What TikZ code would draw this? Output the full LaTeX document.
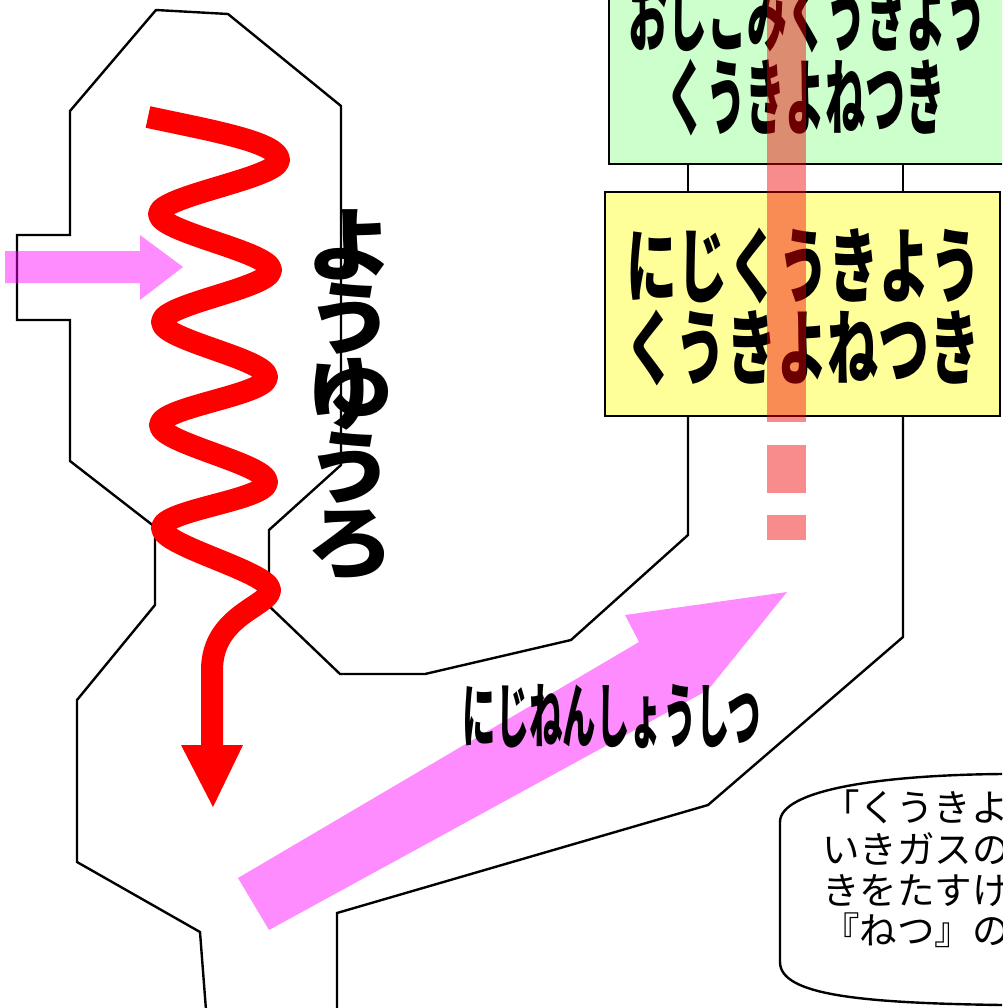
\documentclass[tikz,border=0pt]{standalone}
\usepackage{fontspec}
% Japanese faces: condensed bold for the panels, plain for the note
\newfontfamily\jpG[FakeStretch=0.48]{Noto Sans CJK JP}
\newfontfamily\jpY[FakeStretch=0.62]{Noto Sans CJK JP}
\newfontfamily\jpR[FakeStretch=0.47]{Noto Sans CJK JP}
\newfontfamily\jpV[FakeStretch=1.1]{Noto Sans CJK JP}
\newfontfamily\jpN{Noto Sans CJK JP}
\definecolor{boxgreen}{RGB}{204,255,204}
\definecolor{boxyellow}{RGB}{255,255,153}
\definecolor{gasmag}{RGB}{255,0,255}
\definecolor{airred}{RGB}{240,0,0}

\begin{document}
\begin{tikzpicture}[x=1pt,y=-1pt,
  wall/.style={draw=black, line width=2.4pt, line join=miter},
  panel/.style={draw=black, line width=2.6pt},
  paneltxt/.style={inner sep=0pt, anchor=base},
  notetxt/.style={inner sep=0pt, anchor=base west, font=\jpN\fontsize{37.5}{40}\selectfont},
  vtxt/.style={inner sep=0pt, anchor=base, font=\jpV\bfseries\fontsize{80}{80}\selectfont},
  airflow/.style={fill=airred, fill opacity=0.45, draw=none},
  gasflow/.style={fill=gasmag, fill opacity=0.45, draw=none},
  flame/.style={draw=red, line width=22pt, line cap=butt, line join=round}]
\useasboundingbox (0,0) rectangle (1002,1008);
\clip (0,0) rectangle (1002,1008);

% furnace and duct walls
\draw[wall] (206,1010) -- (200,932) -- (77,862) -- (77,700) -- (155,605)
  -- (155,527) -- (70,461) -- (70,320) -- (17,320) -- (17,235) -- (70,235)
  -- (70,111) -- (156,10) -- (228,14) -- (341,106) -- (341,465)
  -- (269,530) -- (269,606) -- (340,674) -- (425,674) -- (571,640)
  -- (688,535) -- (688,416);
\draw[wall] (903,416) -- (903,637) -- (708,805) -- (337,913) -- (337,1010);
% connector between the two heat exchangers
\draw[wall] (688,164) -- (688,192);
\draw[wall] (903,164) -- (903,192);

% heat exchanger panels
\draw[panel, fill=boxgreen] (609,-20) rectangle (1020,164);
\draw[panel, fill=boxyellow] (605,192) rectangle (1000,416);

\node[paneltxt, font=\jpG\bfseries\fontsize{83}{83}\selectfont] (g1) at (807,46) {おしこみくうきよう};
\node[paneltxt, font=\jpG\bfseries\fontsize{83}{83}\selectfont] (g2) at (806,129) {くうきよねつき};
\node[paneltxt, font=\jpY\bfseries\fontsize{82}{82}\selectfont] (y1) at (804,296) {にじくうきよう};
\node[paneltxt, font=\jpY\bfseries\fontsize{82}{82}\selectfont] (y2) at (803,378) {くうきよねつき};

% combustion air path through the exchangers
\path[airflow] (767,0) rectangle (806,422);
\path[airflow] (767,445) rectangle (806,493);
\path[airflow] (767,515) rectangle (806,540);

% gas flow arrows
\path[gasflow] (5,251) -- (140,251) -- (140,235) -- (183,267) -- (140,300)
  -- (140,283) -- (5,283) -- cycle;
\path[gasflow] (238,878) -- (639,642) -- (625,615) -- (787,592) -- (708,690)
  -- (269,930) -- cycle;

\node[paneltxt, font=\jpR\bfseries\fontsize{71}{71}\selectfont] (sec) at (612,742) {にじねんしょうしつ};

% flame path through the melting furnace
\draw[flame] (148,117) .. controls (208,130) and (279,142) .. (279,160)
  .. controls (279,178) and (159,196) .. (159,214)
  .. controls (159,232) and (271,252) .. (271,270)
  .. controls (271,288) and (162,304) .. (162,322)
  .. controls (162,340) and (267,359) .. (267,377)
  .. controls (267,395) and (160,407) .. (160,425)
  .. controls (160,443) and (267,464) .. (267,482)
  .. controls (267,500) and (162,510) .. (162,528)
  .. controls (162,546) and (270,572) .. (270,590)
  .. controls (270,606) and (212,615) .. (212,670)
  -- (212,750);
\fill[red] (181,745) -- (243,745) -- (213,807) -- cycle;

% furnace label, written top to bottom
\node[vtxt] (v1) at (350,274) {よ};
\node[vtxt] (v2) at (350,348) {う};
\node[vtxt] (v3) at (350,423) {ゆ};
\node[vtxt] (v4) at (350,497) {う};
\node[vtxt] (v5) at (350,572) {ろ};

% explanatory note
\draw[line width=2.4pt, fill=white] (1020,774) -- (1002,774)
  .. controls (880,775) and (780,790) .. (780,822) -- (780,962)
  .. controls (780,995) and (860,1003) .. (1002,1005) -- (1020,1005);
\node[notetxt] (n1) at (822,821) {「くうきよ};
\node[notetxt] (n2) at (822,863) {いきガスの};
\node[notetxt] (n3) at (822,904) {きをたすけ};
\node[notetxt] (n4) at (822,944) {『ねつ』の};
\end{tikzpicture}
\end{document}
